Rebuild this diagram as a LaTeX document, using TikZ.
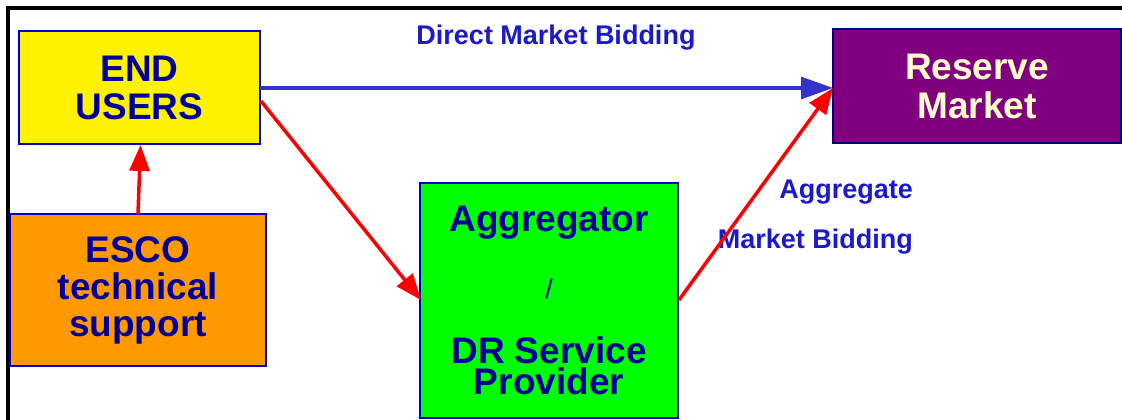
\documentclass[tikz,border=0pt]{standalone}
\usepackage{fontspec}
\setmainfont{Liberation Sans}
\usetikzlibrary{arrows.meta}
\definecolor{boxtext}{HTML}{000099}
\definecolor{boxline}{HTML}{0000CC}
\definecolor{labelblue}{HTML}{1A1ACC}
\definecolor{arrowblue}{HTML}{3333CC}
\definecolor{cream}{HTML}{FFFFCC}
\definecolor{purplebox}{HTML}{800080}
\definecolor{orangebox}{HTML}{FF9900}
\definecolor{greenbox}{HTML}{00FF00}
\begin{document}
\begin{tikzpicture}[x=1pt,y=-1pt,
  box/.style={draw=boxline, line width=2.5pt, rectangle, inner sep=0pt, align=center,
    text=boxtext, font=\fontsize{37}{38}\selectfont\bfseries},
  redarrow/.style={draw=red, line width=3.5pt, -{Triangle[length=26pt,width=20pt]}},
  bluearrow/.style={draw=arrowblue, line width=3pt, -{Triangle[length=32pt,width=22pt]}},
  lbl/.style={text=labelblue, font=\fontsize{27}{27}\selectfont\bfseries, inner sep=0pt}
]
\useasboundingbox (0,0) rectangle (1122,420);
\fill[white] (0,0) rectangle (1122,420);
\draw[black, line width=3.5pt] (8,422) -- (8,8) -- (1124,8);

\node[box, fill=yellow, minimum width=241pt, minimum height=113pt] (end) at (139.5,87.5) {END\\USERS};
\node[box, fill=orangebox, minimum width=256pt, minimum height=152pt,
  font=\fontsize{37}{37}\selectfont\bfseries] (esco) at (138,290) {ESCO\\technical\\support};
\node[box, fill=greenbox, minimum width=258pt, minimum height=235pt,
  font=\fontsize{37}{31}\selectfont\bfseries] (agg) at (549,300.5)
  {Aggregator\\[36pt]{\fontsize{27}{31}\selectfont\mdseries /}\\[34pt]DR Service\\Provider};
\node[box, draw=blue!50!black, fill=purplebox, text=cream, minimum width=288pt, minimum height=114pt,
  font=\fontsize{37}{39}\selectfont\bfseries] (res) at (977,86) {Reserve\\Market};

\node[lbl] (direct) at (556,38) {Direct Market Bidding};
\node[lbl, anchor=east] (aggl1) at (913,192) {Aggregate};
\node[lbl, anchor=east] (aggl2) at (913,242) {Market Bidding};

\coordinate (endR) at (260,88);
\coordinate (resL) at (833,88);
\coordinate (endRR) at (261,101);
\coordinate (aggL) at (421,300);
\coordinate (aggR) at (679,300);
\coordinate (escoT) at (138,214);
\coordinate (endB) at (140.5,145);

\draw[bluearrow] (endR) -- (resL);
\draw[redarrow] (endRR) -- (aggL);
\draw[redarrow] (aggR) -- (resL);
\draw[redarrow] (escoT) -- (endB);
\end{tikzpicture}
\end{document}
